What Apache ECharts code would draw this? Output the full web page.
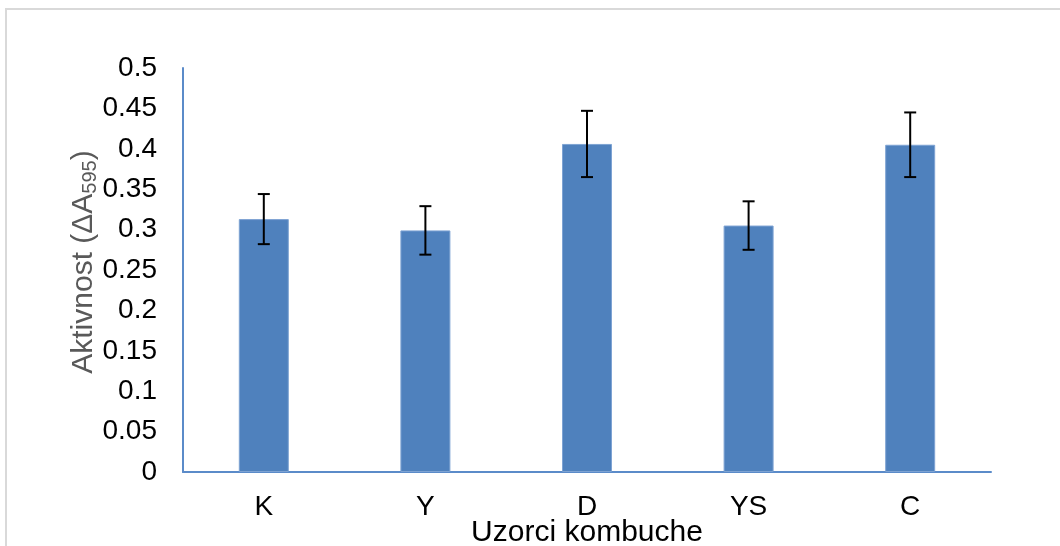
<!DOCTYPE html>
<html>
<head>
<meta charset="utf-8">
<script src="https://cdn.jsdelivr.net/npm/echarts@6/dist/echarts.min.js"></script>
<style>html,body{margin:0;padding:0;background:#fff}#c{width:1060px;height:546px}</style>
</head>
<body>
<div id="c"></div>
<script>
var categories = ['K', 'Y', 'D', 'YS', 'C'];
var values = [0.313, 0.299, 0.406, 0.305, 0.405];
var errors = [0.031, 0.030, 0.041, 0.030, 0.040];
var yTicks = [0, 0.05, 0.1, 0.15, 0.2, 0.25, 0.3, 0.35, 0.4, 0.45, 0.5];

var FONT = '"Liberation Sans", Arial, sans-serif';
var chart = echarts.init(document.getElementById('c'), null, {renderer: 'canvas'});
var errData = values.map(function (v, i) { return [i, v - errors[i], v + errors[i]]; });

chart.setOption({
  animation: false,
  backgroundColor: '#fff',
  textStyle: {fontFamily: FONT},
  graphic: [{
    type: 'rect', silent: true, z: -1,
    shape: {x: 6, y: 9, width: 1120, height: 600},
    style: {fill: 'none', stroke: '#d9d9d9', lineWidth: 2}
  }],
  grid: {left: 183, right: 69, top: 68, bottom: 74, containLabel: false, outerBoundsMode: 'none'},
  xAxis: {
    type: 'category',
    data: categories,
    name: 'Uzorci kombuche',
    nameLocation: 'middle',
    nameGap: 46,
    nameMoveOverlap: false,
    nameTextStyle: {fontSize: 30, color: '#000', fontFamily: FONT},
    axisLine: {show: true, lineStyle: {color: '#5b8bc9', width: 2}},
    axisTick: {show: false},
    axisLabel: {fontSize: 28, color: '#000', margin: 21, fontFamily: FONT}
  },
  yAxis: {
    type: 'value',
    min: 0, max: 0.5, interval: 0.05,
    name: 'Aktivnost (ΔA{sub|595})',
    nameLocation: 'middle',
    nameRotate: 90,
    nameGap: 83,
    nameMoveOverlap: false,
    nameTextStyle: {
      fontSize: 30, color: '#595959', fontFamily: FONT, padding: [0, 0, 0, 16],
      rich: {sub: {fontSize: 20, color: '#595959', fontFamily: FONT, padding: [12, 0, 0, 0]}}
    },
    splitLine: {show: false},
    axisTick: {show: false},
    axisLine: {show: true, lineStyle: {color: '#5b8bc9', width: 2}},
    axisLabel: {
      fontSize: 28, color: '#000', margin: 26, fontFamily: FONT,
      formatter: function (v) {
        var t = yTicks.find(function (x) { return Math.abs(x - v) < 1e-9; });
        return String(t === undefined ? +v.toFixed(2) : t);
      }
    }
  },
  series: [{
    type: 'bar',
    data: values,
    barWidth: 50,
    itemStyle: {color: '#4f81bd', borderColor: '#7ea3d3', borderWidth: 1}
  }, {
    type: 'custom',
    data: errData,
    z: 10,
    renderItem: function (params, api) {
      var x = api.value(0);
      var lo = api.coord([x, api.value(1)]);
      var hi = api.coord([x, api.value(2)]);
      var h = 6;
      var st = {stroke: '#000', lineWidth: 2};
      return {
        type: 'group',
        children: [
          {type: 'line', shape: {x1: lo[0], y1: lo[1], x2: hi[0], y2: hi[1]}, style: st},
          {type: 'line', shape: {x1: lo[0] - h, y1: lo[1], x2: lo[0] + h, y2: lo[1]}, style: st},
          {type: 'line', shape: {x1: hi[0] - h, y1: hi[1], x2: hi[0] + h, y2: hi[1]}, style: st}
        ]
      };
    }
  }]
});
</script>
</body>
</html>
